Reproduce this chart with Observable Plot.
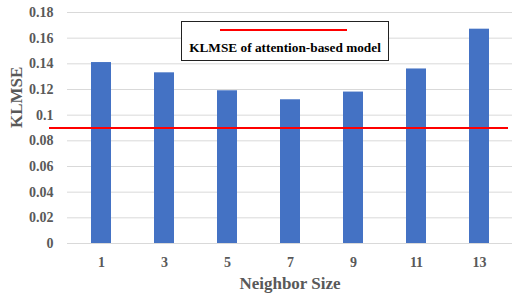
<!DOCTYPE html>
<html>
<head>
<meta charset="utf-8">
<script src="https://cdn.jsdelivr.net/npm/d3@7"></script>
<script src="https://cdn.jsdelivr.net/npm/@observablehq/plot@0.6"></script>
<style>
  html, body { margin: 0; padding: 0; background: #fff; }
  #wrap { position: relative; width: 512px; height: 295px; }
  #wrap svg text { font-weight: bold; }
  #legend {
    position: absolute; left: 181px; top: 21px; width: 206px; height: 38px;
    border: 1px solid #222; background: #fff; box-sizing: content-box;
    font-family: "Liberation Serif", "Times New Roman", serif; font-weight: bold;
    font-size: 13.3px; color: #000;
  }
  #legend .swatch { position: absolute; left: 38px; top: 7px; width: 127px; height: 2px; background: #ff0000; }
  #legend .lab { position: absolute; left: 0; right: 0; top: 18px; text-align: center; white-space: nowrap; }
</style>
</head>
<body>
<div id="wrap"></div>
<script>
const neighborSizes = ["1", "3", "5", "7", "9", "11", "13"];
const klmseValues = [0.141, 0.133, 0.119, 0.112, 0.118, 0.136, 0.167];
const attentionKLMSE = 0.09;
const yTicks = [0, 0.02, 0.04, 0.06, 0.08, 0.1, 0.12, 0.14, 0.16, 0.18];
const legendLabel = "KLMSE of attention-based model";
const xTitle = "Neighbor Size";
const yTitle = "KLMSE";

const data = neighborSizes.map((n, i) => ({n, v: klmseValues[i]}));
const font = '"Liberation Serif", "Times New Roman", serif';
const gray = "#595959";

const chart = Plot.plot({
  width: 512,
  height: 295,
  marginLeft: 67,
  marginRight: 0,
  marginTop: 12,
  marginBottom: 52,
  style: {fontFamily: font, fontWeight: "bold", fontSize: "14px", color: gray, background: "#fff"},
  x: {domain: neighborSizes, paddingInner: 0.685, paddingOuter: 0.3425, label: null},
  y: {domain: [0, 0.18], label: null},
  marks: [
    Plot.gridY(yTicks, {stroke: "#d9d9d9", strokeOpacity: 1, strokeWidth: 1}),
    Plot.barY(data, {x: "n", y: "v", fill: "#4472c4"}),
    Plot.ruleY([attentionKLMSE], {stroke: "#ff0000", strokeWidth: 2, insetLeft: -18, insetRight: 4}),
    Plot.axisY(yTicks, {tickSize: 0, tickPadding: 14, label: null, fill: gray, fontSize: 14, fontWeight: "bold",
      tickFormat: d => String(+d.toFixed(2))}),
    Plot.axisX({tickSize: 0, tickPadding: 14, label: null, fill: gray, fontSize: 14, fontWeight: "bold"}),
    Plot.text([xTitle], {frameAnchor: "bottom", dy: 40, lineAnchor: "middle", fontSize: 17, fill: gray, fontWeight: "bold"}),
    Plot.text([yTitle], {frameAnchor: "left", rotate: -90, dx: -51, lineAnchor: "middle", fontSize: 17, fill: gray, fontWeight: "bold"})
  ]
});

const wrap = document.getElementById("wrap");
wrap.appendChild(chart);
const legend = document.createElement("div");
legend.id = "legend";
legend.innerHTML = `<div class="swatch"></div><div class="lab"></div>`;
legend.querySelector(".lab").textContent = legendLabel;
wrap.appendChild(legend);
</script>
</body>
</html>
